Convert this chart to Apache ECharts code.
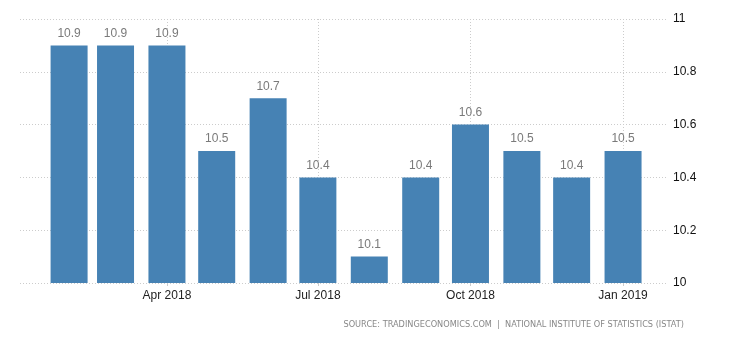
<!DOCTYPE html>
<html>
<head>
<meta charset="utf-8">
<script src="https://cdn.jsdelivr.net/npm/echarts@6/dist/echarts.min.js"></script>
<style>html,body{margin:0;padding:0;background:#fff}#c{width:730px;height:340px}</style>
</head>
<body>
<div id="c"></div>
<script>
const months = ['2018-02','2018-03','2018-04','2018-05','2018-06','2018-07','2018-08','2018-09','2018-10','2018-11','2018-12','2019-01'];
const values = [10.9, 10.9, 10.9, 10.5, 10.7, 10.4, 10.1, 10.4, 10.6, 10.5, 10.4, 10.5];
const xTickMonths = ['2018-04','2018-07','2018-10','2019-01'];
const xTickLabels = ['Apr 2018','Jul 2018','Oct 2018','Jan 2019'];
const yTicks = [10, 10.2, 10.4, 10.6, 10.8, 11];
const sourceText = 'SOURCE: TRADINGECONOMICS.COM  |  NATIONAL INSTITUTE OF STATISTICS (ISTAT)';

// x positions are day numbers counted from the first month (a day-based time scale)
const DAY = 86400000;
const ts = m => { const [y, mo] = m.split('-').map(Number); return Date.UTC(y, mo - 1, 1); };
const day = m => (ts(m) - ts(months[0])) / DAY;
const tickDays = xTickMonths.map(day);
const labelFor = v => {
  let best = '', bd = Infinity;
  tickDays.forEach((t, i) => { const d = Math.abs(t - v); if (d < bd) { bd = d; best = xTickLabels[i]; } });
  return bd < 2 ? best : '';
};

const chart = echarts.init(document.getElementById('c'), null, {renderer: 'canvas'});
chart.setOption({
  animation: false,
  backgroundColor: '#fff',
  grid: {left: 20, right: 62, top: 19, bottom: 57, containLabel: false},
  xAxis: {
    type: 'value',
    min: -29.6,
    max: day(months[months.length - 1]) + 27.1,
    axisLine: {show: false},
    axisTick: {show: true, customValues: tickDays, length: 3, lineStyle: {color: '#ccc'}},
    axisLabel: {
      customValues: tickDays,
      formatter: v => labelFor(v),
      color: '#222', fontSize: 12, fontFamily: 'Liberation Sans', margin: 7
    },
    splitLine: {show: true, lineStyle: {color: '#ccc', type: [1, 2]}}
  },
  yAxis: {
    type: 'value',
    position: 'right',
    min: yTicks[0],
    max: yTicks[yTicks.length - 1],
    interval: 0.2,
    axisLine: {show: false},
    axisTick: {show: false},
    axisLabel: {
      color: '#111', fontSize: 12, fontFamily: 'Liberation Sans', margin: 5,
      formatter: v => String(Math.round(v * 10) / 10)
    },
    splitLine: {show: true, lineStyle: {color: '#ccc', type: [1, 2]}}
  },
  series: [{
    type: 'bar',
    barWidth: 37,
    data: values.map((v, i) => [day(months[i]), v]),
    itemStyle: {color: '#4682b4'},
    label: {
      show: true, position: 'top', distance: 6,
      color: '#7a7a7a', fontSize: 12, fontFamily: 'Liberation Sans',
      formatter: p => p.value[1].toFixed(1)
    }
  }],
  graphic: [{
    type: 'text',
    right: 46,
    top: 321,
    style: {text: sourceText, fill: '#888', font: '8.2px "DejaVu Sans"'}
  }]
});
</script>
</body>
</html>
